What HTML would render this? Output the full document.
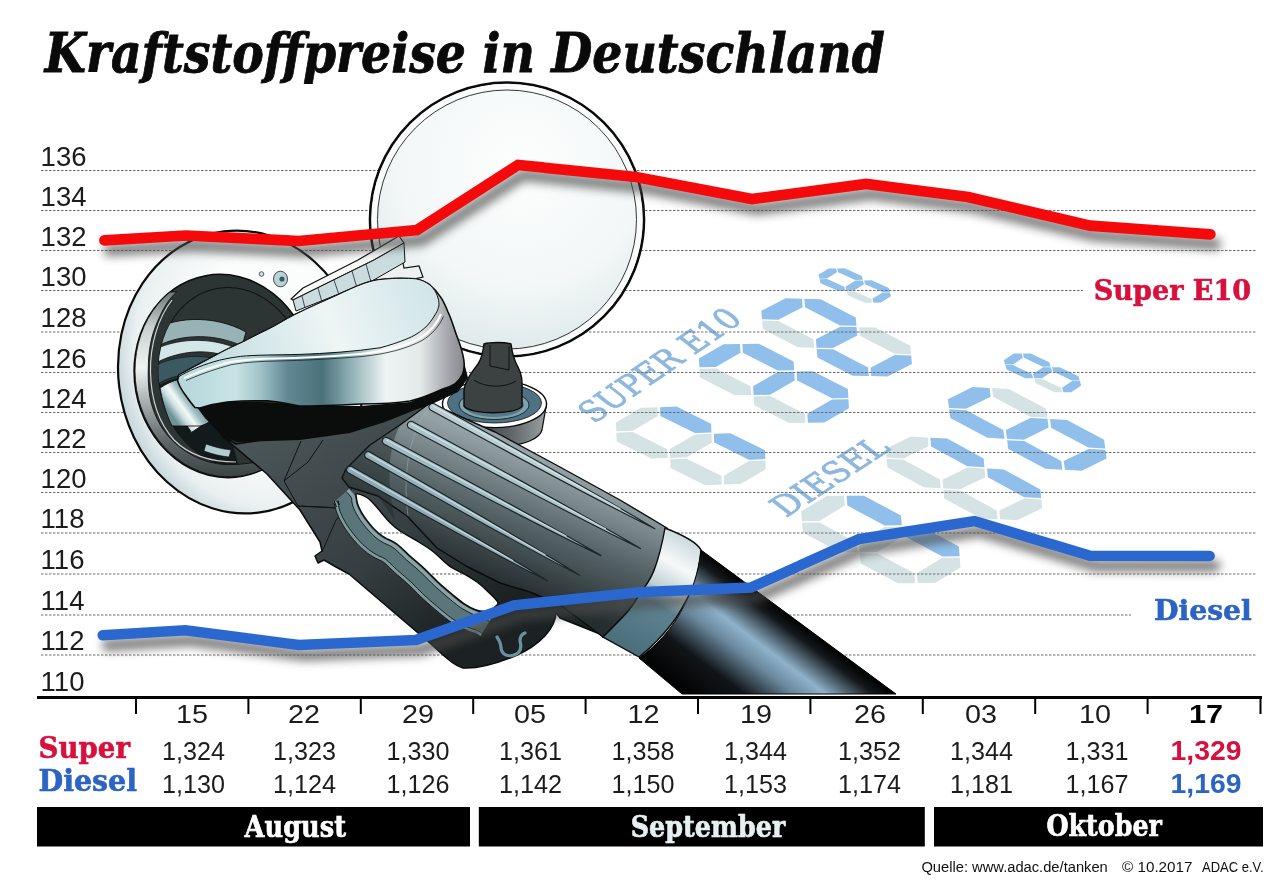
<!DOCTYPE html>
<html><head><meta charset="utf-8"><title>Kraftstoffpreise in Deutschland</title>
<style>
html,body{margin:0;padding:0;background:#fff;}
body{width:1280px;height:893px;overflow:hidden;position:relative;}
svg{position:absolute;left:0;top:0;display:block;}
.ax{font-family:"Liberation Sans",sans-serif;font-size:27.5px;fill:#1c1c1c;}
.dt{font-family:"Liberation Sans",sans-serif;font-size:25px;fill:#1c1c1c;}
.val{font-family:"Liberation Sans",sans-serif;font-size:26px;fill:#1c1c1c;}
.slab{font-family:"DejaVu Serif","Liberation Serif",serif;font-weight:bold;}
</style></head>
<body>
<svg width="1280" height="893" viewBox="0 0 1280 893">
<defs>
  <filter id="shd" x="-5%" y="-30%" width="110%" height="180%"><feGaussianBlur stdDeviation="5"/></filter>
</defs>
<rect width="1280" height="893" fill="#fff"/>

<!-- DIGITS -->
<g id="digits">
<g transform="matrix(0.5986 -0.3493 0.6231 0.3075 598.6 432.6)"><polygon points="15.5,13.5 29,0 71,0 84.5,13.5 71,27 29,27" fill="#d5e3e5"/><polygon points="15.5,100 29,86.5 71,86.5 84.5,100 71,113.5 29,113.5" fill="#d5e3e5"/><polygon points="15.5,186.5 29,173 71,173 84.5,186.5 71,200 29,200" fill="#d5e3e5"/><polygon points="13.5,15.5 27,29 27,84.5 13.5,98 0,84.5 0,29" fill="#d5e3e5"/><polygon points="86.5,15.5 100,29 100,84.5 86.5,98 73,84.5 73,29" fill="#8fbfea"/><polygon points="13.5,102 27,115.5 27,171 13.5,184.5 0,171 0,115.5" fill="#d5e3e5"/><polygon points="86.5,102 100,115.5 100,171 86.5,184.5 73,171 73,115.5" fill="#8fbfea"/></g>
<g transform="matrix(0.5877 -0.3390 0.6272 0.3199 681.8 368.3)"><polygon points="15.5,13.5 29,0 71,0 84.5,13.5 71,27 29,27" fill="#8fbfea"/><polygon points="15.5,100 29,86.5 71,86.5 84.5,100 71,113.5 29,113.5" fill="#8fbfea"/><polygon points="15.5,186.5 29,173 71,173 84.5,186.5 71,200 29,200" fill="#8fbfea"/><polygon points="13.5,15.5 27,29 27,84.5 13.5,98 0,84.5 0,29" fill="#d5e3e5"/><polygon points="86.5,15.5 100,29 100,84.5 86.5,98 73,84.5 73,29" fill="#8fbfea"/><polygon points="13.5,102 27,115.5 27,171 13.5,184.5 0,171 0,115.5" fill="#d5e3e5"/><polygon points="86.5,102 100,115.5 100,171 86.5,184.5 73,171 73,115.5" fill="#8fbfea"/></g>
<g transform="matrix(0.5788 -0.2986 0.6315 0.3283 744.5 319.5)"><polygon points="15.5,13.5 29,0 71,0 84.5,13.5 71,27 29,27" fill="#8fbfea"/><polygon points="15.5,100 29,86.5 71,86.5 84.5,100 71,113.5 29,113.5" fill="#8fbfea"/><polygon points="15.5,186.5 29,173 71,173 84.5,186.5 71,200 29,200" fill="#8fbfea"/><polygon points="13.5,15.5 27,29 27,84.5 13.5,98 0,84.5 0,29" fill="#d5e3e5"/><polygon points="86.5,15.5 100,29 100,84.5 86.5,98 73,84.5 73,29" fill="#8fbfea"/><polygon points="13.5,102 27,115.5 27,171 13.5,184.5 0,171 0,115.5" fill="#8fbfea"/><polygon points="86.5,102 100,115.5 100,171 86.5,184.5 73,171 73,115.5" fill="#d5e3e5"/></g>
<g transform="matrix(0.2390 -0.1486 0.3118 0.1390 811.6 279.1)"><polygon points="15.5,13.5 29,0 71,0 84.5,13.5 71,27 29,27" fill="#8fbfea"/><polygon points="15.5,100 29,86.5 71,86.5 84.5,100 71,113.5 29,113.5" fill="#8fbfea"/><polygon points="15.5,186.5 29,173 71,173 84.5,186.5 71,200 29,200" fill="#8fbfea"/><polygon points="13.5,15.5 27,29 27,84.5 13.5,98 0,84.5 0,29" fill="#8fbfea"/><polygon points="86.5,15.5 100,29 100,84.5 86.5,98 73,84.5 73,29" fill="#8fbfea"/><polygon points="13.5,102 27,115.5 27,171 13.5,184.5 0,171 0,115.5" fill="#d5e3e5"/><polygon points="86.5,102 100,115.5 100,171 86.5,184.5 73,171 73,115.5" fill="#8fbfea"/></g>
<g transform="matrix(0.6096 -0.3685 0.6688 0.3578 783.5 522.1)"><polygon points="15.5,13.5 29,0 71,0 84.5,13.5 71,27 29,27" fill="#d5e3e5"/><polygon points="15.5,100 29,86.5 71,86.5 84.5,100 71,113.5 29,113.5" fill="#d5e3e5"/><polygon points="15.5,186.5 29,173 71,173 84.5,186.5 71,200 29,200" fill="#d5e3e5"/><polygon points="13.5,15.5 27,29 27,84.5 13.5,98 0,84.5 0,29" fill="#d5e3e5"/><polygon points="86.5,15.5 100,29 100,84.5 86.5,98 73,84.5 73,29" fill="#8fbfea"/><polygon points="13.5,102 27,115.5 27,171 13.5,184.5 0,171 0,115.5" fill="#d5e3e5"/><polygon points="86.5,102 100,115.5 100,171 86.5,184.5 73,171 73,115.5" fill="#8fbfea"/></g>
<g transform="matrix(0.5979 -0.2890 0.6561 0.3578 868.4 457.1)"><polygon points="15.5,13.5 29,0 71,0 84.5,13.5 71,27 29,27" fill="#d5e3e5"/><polygon points="15.5,100 29,86.5 71,86.5 84.5,100 71,113.5 29,113.5" fill="#d5e3e5"/><polygon points="15.5,186.5 29,173 71,173 84.5,186.5 71,200 29,200" fill="#d5e3e5"/><polygon points="13.5,15.5 27,29 27,84.5 13.5,98 0,84.5 0,29" fill="#d5e3e5"/><polygon points="86.5,15.5 100,29 100,84.5 86.5,98 73,84.5 73,29" fill="#8fbfea"/><polygon points="13.5,102 27,115.5 27,171 13.5,184.5 0,171 0,115.5" fill="#d5e3e5"/><polygon points="86.5,102 100,115.5 100,171 86.5,184.5 73,171 73,115.5" fill="#8fbfea"/></g>
<g transform="matrix(0.5870 -0.2897 0.6697 0.3575 930.9 407.6)"><polygon points="15.5,13.5 29,0 71,0 84.5,13.5 71,27 29,27" fill="#8fbfea"/><polygon points="15.5,100 29,86.5 71,86.5 84.5,100 71,113.5 29,113.5" fill="#8fbfea"/><polygon points="15.5,186.5 29,173 71,173 84.5,186.5 71,200 29,200" fill="#8fbfea"/><polygon points="13.5,15.5 27,29 27,84.5 13.5,98 0,84.5 0,29" fill="#8fbfea"/><polygon points="86.5,15.5 100,29 100,84.5 86.5,98 73,84.5 73,29" fill="#d5e3e5"/><polygon points="13.5,102 27,115.5 27,171 13.5,184.5 0,171 0,115.5" fill="#8fbfea"/><polygon points="86.5,102 100,115.5 100,171 86.5,184.5 73,171 73,115.5" fill="#8fbfea"/></g>
<g transform="matrix(0.2390 -0.1603 0.3367 0.1601 996.9 364.8)"><polygon points="15.5,13.5 29,0 71,0 84.5,13.5 71,27 29,27" fill="#8fbfea"/><polygon points="15.5,100 29,86.5 71,86.5 84.5,100 71,113.5 29,113.5" fill="#8fbfea"/><polygon points="15.5,186.5 29,173 71,173 84.5,186.5 71,200 29,200" fill="#8fbfea"/><polygon points="13.5,15.5 27,29 27,84.5 13.5,98 0,84.5 0,29" fill="#8fbfea"/><polygon points="86.5,15.5 100,29 100,84.5 86.5,98 73,84.5 73,29" fill="#8fbfea"/><polygon points="13.5,102 27,115.5 27,171 13.5,184.5 0,171 0,115.5" fill="#d5e3e5"/><polygon points="86.5,102 100,115.5 100,171 86.5,184.5 73,171 73,115.5" fill="#8fbfea"/></g>
<text transform="matrix(0.8241 -0.5664 0.7880 0.6157 594 424)" x="0" y="0" font-family="DejaVu Serif, Liberation Serif, serif" stroke="#8db7de" stroke-width="0.9" font-size="34" fill="#8db7de" textLength="182" lengthAdjust="spacingAndGlyphs">SUPER E10</text>
<text transform="matrix(0.8387 -0.5446 0.7880 0.6157 786 518)" x="0" y="0" font-family="DejaVu Serif, Liberation Serif, serif" stroke="#8db7de" stroke-width="0.9" font-size="34" fill="#8db7de" textLength="126" lengthAdjust="spacingAndGlyphs">DIESEL</text>
</g>

<!-- GRIDLINES -->
<g id="grid" stroke="#6a6a6a" stroke-width="1" stroke-dasharray="2.4 1.6" fill="none">
  <path d="M41 170.5H1257M41 210.5H1257M41 250.5H1257M41 290.5H1083M41 332H1257M41 372.5H1257M41 412.5H1257M41 452.5H1257M41 492.5H1257M41 533H1257M41 574H1257M41 615H1131M41 655H1257"/>
</g>

<!-- ILLUSTRATION -->
<g id="ill">
  <defs>
    <radialGradient id="capG" cx="0.55" cy="0.3" r="0.8">
      <stop offset="0" stop-color="#fdfefe"/>
      <stop offset="0.55" stop-color="#f3f7f7"/>
      <stop offset="1" stop-color="#d6e4e6"/>
    </radialGradient>
    <radialGradient id="housG" cx="0.62" cy="0.45" r="0.62">
      <stop offset="0.55" stop-color="#fbfcfc"/>
      <stop offset="0.88" stop-color="#eaf0f1"/>
      <stop offset="1" stop-color="#c9d9dc"/>
    </radialGradient>
    <linearGradient id="silverG" gradientUnits="userSpaceOnUse" x1="178" y1="0" x2="466" y2="0">
      <stop offset="0" stop-color="#b4d6da"/>
      <stop offset="0.2" stop-color="#c8e3e5"/>
      <stop offset="0.28" stop-color="#a3c6cb"/>
      <stop offset="0.38" stop-color="#628893"/>
      <stop offset="0.5" stop-color="#4b717b"/>
      <stop offset="0.6" stop-color="#8fb0b6"/>
      <stop offset="0.72" stop-color="#eef3f3"/>
      <stop offset="0.84" stop-color="#e4e9ea"/>
      <stop offset="0.93" stop-color="#a9abb0"/>
      <stop offset="1" stop-color="#85858c"/>
    </linearGradient>
    <linearGradient id="topG" gradientUnits="userSpaceOnUse" x1="200" y1="380" x2="440" y2="290">
      <stop offset="0" stop-color="#bcdadd"/>
      <stop offset="0.55" stop-color="#eef5f5"/>
      <stop offset="1" stop-color="#cfe4e7"/>
    </linearGradient>
    <linearGradient id="gripG" gradientUnits="userSpaceOnUse" x1="548" y1="462" x2="500" y2="585">
      <stop offset="0" stop-color="#95a3a6"/>
      <stop offset="0.2" stop-color="#7d8b8e"/>
      <stop offset="0.5" stop-color="#566467"/>
      <stop offset="0.8" stop-color="#394345"/>
      <stop offset="1" stop-color="#252d2f"/>
    </linearGradient>
    <linearGradient id="bodyG" gradientUnits="userSpaceOnUse" x1="260" y1="440" x2="420" y2="660">
      <stop offset="0" stop-color="#4a5557"/>
      <stop offset="0.6" stop-color="#353e40"/>
      <stop offset="1" stop-color="#1c2223"/>
    </linearGradient>
    <linearGradient id="hoseG" gradientUnits="userSpaceOnUse" x1="790" y1="615" x2="712" y2="718">
      <stop offset="0" stop-color="#000"/>
      <stop offset="0.1" stop-color="#15191c"/>
      <stop offset="0.32" stop-color="#8fb2ca"/>
      <stop offset="0.46" stop-color="#6a899f"/>
      <stop offset="0.7" stop-color="#121518"/>
      <stop offset="1" stop-color="#000"/>
    </linearGradient>
    <linearGradient id="collarG" gradientUnits="userSpaceOnUse" x1="690" y1="535" x2="625" y2="650">
      <stop offset="0" stop-color="#c5d5d8"/>
      <stop offset="0.25" stop-color="#f6f9f9"/>
      <stop offset="0.45" stop-color="#c1d0d3"/>
      <stop offset="0.58" stop-color="#5f8491"/>
      <stop offset="1" stop-color="#4a6d7a"/>
    </linearGradient>
    <linearGradient id="ringSideG" gradientUnits="userSpaceOnUse" x1="450" y1="0" x2="546" y2="0">
      <stop offset="0" stop-color="#2e3333"/>
      <stop offset="0.6" stop-color="#5b6162"/>
      <stop offset="1" stop-color="#9aa0a1"/>
    </linearGradient>
    <linearGradient id="rimG" gradientUnits="userSpaceOnUse" x1="0" y1="290" x2="0" y2="476">
      <stop offset="0" stop-color="#6a7272"/>
      <stop offset="0.2" stop-color="#c9d0d1"/>
      <stop offset="0.42" stop-color="#f0f3f3"/>
      <stop offset="0.62" stop-color="#a2a9ab"/>
      <stop offset="0.82" stop-color="#5d6567"/>
      <stop offset="1" stop-color="#3d4444"/>
    </linearGradient>
    <linearGradient id="pipeG" gradientUnits="userSpaceOnUse" x1="170" y1="413" x2="192" y2="397">
      <stop offset="0" stop-color="#6f9299"/>
      <stop offset="0.3" stop-color="#cfe2e4"/>
      <stop offset="0.5" stop-color="#f4f8f8"/>
      <stop offset="0.75" stop-color="#9fbfc4"/>
      <stop offset="1" stop-color="#7a9ba1"/>
    </linearGradient>
  </defs>

  <!-- cap door -->
  <circle cx="507" cy="219.5" r="137" fill="url(#capG)" stroke="#0b0b0b" stroke-width="2.6"/>
  <circle cx="507" cy="219.5" r="133" fill="none" stroke="#fbfcfc" stroke-width="5"/>
  <circle cx="507" cy="219.5" r="129.5" fill="none" stroke="#222" stroke-width="0.9"/>

  <!-- hinge base panel -->
  <path d="M368 262 L398 238 L404 268 L419 266 L423 277 L400 282 L372 282 Z" fill="#eef1f1" stroke="#111" stroke-width="1.2"/>

  <!-- filler housing -->
  <ellipse cx="241" cy="372" rx="122.7" ry="141.7" transform="rotate(-7 241 372)" fill="url(#housG)" stroke="#0b0b0b" stroke-width="2.2"/>
  <!-- small holes -->
  <circle cx="261.5" cy="274" r="2.3" fill="#cfe1e4" stroke="#223" stroke-width="0.7"/>
  <ellipse cx="280.5" cy="279" rx="7" ry="7.8" fill="#b9d3d8" stroke="#223" stroke-width="0.8"/>
  <circle cx="282" cy="279" r="2.6" fill="#3a5a60"/>

  <!-- filler opening -->
  <clipPath id="openClip"><ellipse cx="233" cy="377" rx="74" ry="90" transform="rotate(-10.4 233 377)"/></clipPath>
  <ellipse cx="224" cy="376" rx="89.5" ry="102" transform="rotate(-10.4 224 376)" fill="#2c3434" stroke="#0b0b0b" stroke-width="1.5"/>
  <ellipse cx="233" cy="377" rx="74" ry="90" transform="rotate(-10.4 233 377)" fill="none" stroke="#111" stroke-width="1"/>
  <g clip-path="url(#openClip)">
    <path d="M148 334 C170 316 214 314 246 332 L242 346 C212 332 176 334 150 350 Z" fill="#98b3b6" stroke="#111" stroke-width="0.9"/>
    <path d="M150 352 C176 337 212 337 238 349 L232 358 C208 348 178 350 152 365 Z" fill="#d3e6e8" stroke="#111" stroke-width="0.8"/>
    <path d="M152 367 C177 354 206 354 228 362 L214 380 C197 371 175 373 154 386 Z" fill="#3b5961" stroke="#111" stroke-width="0.6"/>
    <path d="M154 388 C175 375 198 373 214 381 L240 470 C210 470 180 460 160 440 Z" fill="#131a1b"/>
    <path d="M164.4 393 L176.7 383.2 L206.3 422.6 L191.5 432.4 Z" fill="url(#pipeG)" stroke="#111" stroke-width="0.9"/>
    <path d="M206 444 C214 447 222 449 231 450 L229 457 C220 456 212 454 204 451 Z" fill="#b2cdd1" stroke="#111" stroke-width="0.6"/>
  </g>
  <!-- silver rim (left crescent) -->
  <path d="M170 292 A89.5 102 -10.4 0 0 264.5 468.5 L258 462 C245 464 235 465 223.5 464.5 C205 463 188 455 174.2 442.3 C163 432 155 418 151 402 C148 390 148 376 148.4 363.5 C149 345 153 330 160 316 C165 305 170 298 176.7 292 Z" fill="url(#rimG)" stroke="#111" stroke-width="0.9"/>
  <path d="M172 300 C158 318 150 345 150.5 372 C151 398 158 422 174 440 C190 456 212 462 236 462" fill="none" stroke="#f4f7f7" stroke-width="1.2" opacity="0.8"/>

  <!-- strap -->
  <path d="M291 299 L303 288 L358 260 L399 236 L404 243 L374 260 L293 300 Z" fill="#f7f8f8" stroke="#111" stroke-width="1.2" stroke-linejoin="round"/>
  <path d="M293 300 L374 260 L404 243 L405 262 L372 281 L296 311 Z" fill="#cbdcdf" stroke="#111" stroke-width="1"/>
  <path d="M302 296 L305 308 M318 288 L322 302 M334 280 L339 295 M352 271 L357 288 M366 264 L371 282" stroke="#223" stroke-width="0.8"/>

  <!-- spout pipe -->
  <path d="M160 388 C166 384 172 381 180 379 L212 420 C208 423 204 425 200 426 L172 426 C166 414 162 400 160 388 Z" fill="url(#pipeG)" stroke="#111" stroke-width="0.9"/>

  <!-- small cap ring -->
  <path d="M442.5 404 L446 428 C455 440 480 446 500 446 C525 446 540 438 542 430 L546.5 404 Z" fill="url(#ringSideG)" stroke="#0b0b0b" stroke-width="1.2"/>
  <ellipse cx="494.5" cy="404" rx="52" ry="23.6" fill="#fff" stroke="#0b0b0b" stroke-width="1.4"/>
  <ellipse cx="494.5" cy="403" rx="47" ry="20" fill="#4e7283" stroke="#111" stroke-width="0.8"/>
  <ellipse cx="494" cy="405" rx="35" ry="14.5" fill="#7fa2ad" stroke="#111" stroke-width="0.8"/>
  <ellipse cx="494" cy="405" rx="30" ry="12" fill="#56798a"/>
  <!-- knob -->
  <path d="M464 406 L464 392 C464 382 472 372 478 364 C482 358 483 352 484 344 C490 342 505 342 511 344 C512 352 514 360 518 367 C523 376 522 384 522 392 L522 406 C517 415 470 415 464 406 Z" fill="#3c4242" stroke="#0b0b0b" stroke-width="1.4"/>
  <path d="M490 345 L490 366 L509 370 L509 346" fill="none" stroke="#111" stroke-width="1"/>
  <path d="M474 380 C485 388 505 388 516 381" fill="none" stroke="#111" stroke-width="1"/>

  <!-- body/neck + trigger guard silhouette -->
  <path d="M222 436 L236 444 L310 433 L385 416 L432 404 L605 636 L560 618 L556 612 C556 628 540 645 515 656 C498 663 478 669 463 668 C455 666 446 658 431 644 L349 574 L336 567 L324 560 L318 563 L315 556 L322 551 L320 542 L300 510 L267 474 Z" fill="url(#bodyG)" stroke="#0b0b0b" stroke-width="1.5" stroke-linejoin="round"/>
  <!-- neck facets -->
  <path d="M301 441 L284 481 L308 462 L323 440 M284 481 L298 506 L340 508 L352 488" fill="none" stroke="#111" stroke-width="1"/>
  <path d="M298 506 L340 508 L356 497 L336 520 L322 552" fill="none" stroke="#111" stroke-width="0.9"/>
  <!-- guard inner light band -->
  <path d="M349.3 488.7 L350.0 489.5 L351.0 490.6 L352.2 491.9 L353.4 493.3 L354.5 494.7 L355.2 495.9 L355.6 497.1 L355.8 498.2 L355.9 499.5 L356.0 500.8 L356.2 502.3 L356.5 503.8 L357.1 505.3 L357.7 506.8 L358.3 508.3 L359.1 509.8 L359.8 511.3 L360.6 512.8 L361.4 514.2 L362.3 515.6 L363.2 516.9 L364.1 518.2 L365.1 519.6 L366.1 520.9 L367.2 522.3 L368.3 523.7 L369.4 525.1 L370.6 526.5 L371.7 527.8 L372.9 529.1 L374.0 530.3 L375.2 531.4 L376.4 532.5 L377.5 533.5 L378.6 534.4 L379.7 535.3 L380.6 536.0 L381.4 536.6 L382.2 537.1 L383.0 537.6 L384.0 538.2 L385.2 538.9 L386.8 539.7 L388.5 540.5 L390.4 541.4 L392.4 542.3 L394.4 543.5 L396.4 544.8 L398.4 546.4 L400.5 548.3 L402.6 550.3 L404.8 552.5 L407.1 554.6 L409.3 556.7 L411.6 558.8 L413.9 560.8 L416.3 562.7 L418.6 564.8 L421.0 566.8 L423.3 568.9 L425.6 571.1 L428.0 573.5 L430.3 575.8 L432.6 578.2 L435.0 580.5 L437.3 582.7 L439.7 584.9 L442.0 587.0 L444.4 589.0 L446.7 591.0 L449.0 592.9 L451.2 594.8 L453.2 596.5 L455.2 598.2 L457.1 599.8 L459.1 601.3 L461.0 602.8 L462.9 604.1 L465.0 605.4 L467.0 606.6 L469.1 607.7 L471.1 608.7 L473.0 609.7 L474.9 610.5 L476.7 611.3 L478.5 611.9 L480.2 612.4 L481.7 612.9 L483.2 613.4 L484.6 613.9 L485.9 614.6 L487.3 615.3 L488.6 616.1 L489.8 616.8 L490.7 617.4 L491.5 617.9 L480.6 635.8 L479.7 635.3 L478.7 634.6 L477.7 634.1 L476.9 633.6 L476.3 633.2 L476.2 633.1 L476.1 633.1 L475.4 632.9 L474.0 632.5 L471.9 631.8 L469.3 630.9 L466.5 629.8 L464.1 628.7 L461.8 627.6 L459.3 626.3 L456.8 624.9 L454.1 623.4 L451.3 621.6 L448.7 619.8 L446.2 617.9 L443.9 616.1 L441.7 614.3 L439.7 612.6 L437.7 610.9 L435.5 609.0 L433.1 607.0 L430.7 604.9 L428.2 602.7 L425.6 600.5 L423.0 598.1 L420.3 595.6 L417.8 593.0 L415.4 590.6 L413.1 588.3 L411.0 586.2 L409.0 584.3 L407.0 582.5 L404.9 580.6 L402.7 578.7 L400.3 576.7 L397.8 574.6 L395.2 572.3 L392.6 569.9 L390.2 567.5 L388.0 565.4 L386.2 563.7 L384.8 562.4 L383.9 561.7 L383.4 561.3 L382.6 560.9 L381.4 560.3 L379.8 559.6 L377.6 558.6 L375.2 557.4 L373.5 556.4 L372.3 555.7 L370.9 554.8 L369.4 553.8 L368.0 552.8 L366.6 551.7 L365.2 550.6 L363.8 549.4 L362.3 548.1 L360.8 546.7 L359.2 545.1 L357.6 543.5 L356.1 541.8 L354.6 540.1 L353.2 538.4 L351.8 536.8 L350.5 535.1 L349.3 533.5 L348.2 532.0 L347.1 530.4 L345.9 528.8 L344.7 527.0 L343.5 525.1 L342.3 523.1 L341.3 521.1 L340.3 519.2 L339.3 517.1 L338.3 514.9 L337.4 512.7 L336.4 509.7 L335.5 505.9 L335.1 502.7 L335.0 501.0 L335.0 501.1 L335.4 502.7 L336.3 505.1 L337.1 506.5 L337.1 506.5 L336.5 505.8 L335.6 504.8 L334.5 503.6 L333.5 502.6 Z" fill="#5b767a"/>
  <path d="M348.9 489.0 L349.6 489.8 L350.7 490.9 L351.8 492.2 L353.0 493.6 L354.0 495.0 L354.8 496.2 L355.1 497.2 L355.3 498.3 L355.4 499.5 L355.5 500.9 L355.7 502.4 L356.1 503.9 L356.6 505.5 L357.2 507.0 L357.9 508.5 L358.6 510.1 L359.4 511.6 L360.2 513.0 L361.0 514.5 L361.9 515.8 L362.8 517.2 L363.7 518.5 L364.7 519.9 L365.7 521.2 L366.8 522.6 L367.9 524.0 L369.0 525.4 L370.2 526.8 L371.3 528.2 L372.5 529.4 L373.7 530.6 L374.9 531.8 L376.0 532.9 L377.2 533.9 L378.3 534.8 L379.4 535.7 L380.3 536.4 L381.1 537.0 L381.9 537.5 L382.7 538.0 L383.7 538.6 L385.0 539.3 L386.6 540.1 L388.3 541.0 L390.2 541.8 L392.2 542.8 L394.2 543.9 L396.1 545.2 L398.1 546.8 L400.2 548.6 L402.3 550.7 L404.5 552.8 L406.7 555.0 L409.0 557.1 L411.3 559.1 L413.6 561.1 L416.0 563.1 L418.3 565.1 L420.7 567.2 L423.0 569.3 L425.3 571.5 L427.6 573.8 L429.9 576.2 L432.3 578.5 L434.6 580.9 L437.0 583.1 L439.3 585.2 L441.7 587.4 L444.1 589.4 L446.4 591.4 L448.7 593.3 L450.8 595.1 L452.9 596.9 L454.9 598.6 L456.8 600.2 L458.7 601.7 L460.7 603.2 L462.7 604.5 L464.7 605.8 L466.8 607.0 L468.8 608.1 L470.9 609.2 L472.8 610.1 L474.7 611.0 L476.5 611.7 L478.3 612.4 L480.0 612.9 L481.6 613.4 L483.1 613.8 L484.4 614.4 L485.7 615.0 L487.1 615.7 L488.3 616.5 L489.5 617.2 L490.5 617.8 L491.2 618.3 L489.4 621.3 L488.6 620.8 L487.6 620.2 L486.5 619.5 L485.3 618.8 L484.1 618.1 L483.0 617.6 L481.9 617.1 L480.5 616.7 L479.0 616.2 L477.2 615.7 L475.3 615.0 L473.3 614.2 L471.3 613.3 L469.3 612.3 L467.2 611.3 L465.1 610.1 L462.9 608.8 L460.7 607.5 L458.6 606.0 L456.6 604.5 L454.6 602.9 L452.6 601.2 L450.7 599.6 L448.6 597.8 L446.4 596.0 L444.1 594.1 L441.8 592.1 L439.4 590.0 L437.0 587.8 L434.6 585.7 L432.2 583.4 L429.8 581.0 L427.5 578.6 L425.1 576.3 L422.8 574.0 L420.6 571.9 L418.3 569.8 L416.0 567.8 L413.7 565.8 L411.3 563.8 L409.0 561.8 L406.6 559.7 L404.3 557.5 L402.0 555.3 L399.9 553.2 L397.8 551.2 L395.8 549.5 L394.0 548.0 L392.3 546.9 L390.6 545.9 L388.7 545.0 L386.9 544.1 L385.0 543.3 L383.3 542.4 L382.0 541.6 L381.0 541.0 L380.0 540.5 L379.1 539.9 L378.2 539.2 L377.2 538.4 L376.1 537.5 L374.9 536.5 L373.7 535.5 L372.4 534.3 L371.2 533.1 L370.0 531.8 L368.7 530.5 L367.5 529.1 L366.3 527.6 L365.1 526.2 L364.0 524.7 L362.9 523.3 L361.9 521.9 L360.9 520.6 L359.9 519.2 L359.0 517.7 L358.0 516.3 L357.1 514.8 L356.3 513.2 L355.5 511.6 L354.7 510.0 L354.0 508.3 L353.3 506.7 L352.7 504.9 L352.2 503.0 L352.0 501.2 L351.9 499.8 L351.9 498.8 L351.8 498.1 L351.6 497.7 L351.1 496.9 L350.3 495.8 L349.2 494.6 L348.1 493.3 L347.0 492.2 L346.3 491.3 Z" fill="#89a4a8"/>
  <path d="M335.8 500.6 L336.7 501.6 L337.8 502.8 L338.7 503.8 L339.4 504.6 L339.6 504.8 L339.0 503.8 L338.3 501.9 L338.0 500.7 L338.0 500.8 L338.1 502.4 L338.5 505.4 L339.3 508.9 L340.2 511.6 L341.1 513.8 L342.0 515.8 L342.9 517.8 L343.9 519.7 L344.9 521.6 L346.1 523.5 L347.2 525.4 L348.4 527.1 L349.5 528.7 L350.6 530.2 L351.7 531.7 L352.9 533.3 L354.2 534.9 L355.5 536.5 L356.9 538.2 L358.3 539.8 L359.8 541.4 L361.3 543.0 L362.8 544.5 L364.3 545.9 L365.8 547.1 L367.2 548.3 L368.5 549.4 L369.8 550.4 L371.1 551.3 L372.5 552.3 L373.8 553.1 L375.0 553.8 L376.7 554.7 L378.9 555.9 L381.0 556.8 L382.7 557.6 L384.0 558.3 L385.0 558.8 L385.7 559.3 L386.7 560.1 L388.3 561.5 L390.1 563.3 L392.3 565.4 L394.7 567.7 L397.3 570.1 L399.8 572.3 L402.2 574.4 L404.6 576.4 L406.9 578.4 L409.0 580.3 L411.1 582.1 L413.1 584.0 L415.2 586.2 L417.5 588.5 L419.9 590.9 L422.4 593.4 L425.0 595.9 L427.6 598.2 L430.1 600.5 L432.6 602.7 L435.1 604.7 L437.4 606.7 L439.6 608.6 L441.6 610.3 L443.7 612.0 L445.8 613.7 L448.0 615.5 L450.4 617.3 L453.0 619.1 L455.6 620.8 L458.2 622.3 L460.7 623.7 L463.1 624.9 L465.4 626.0 L467.7 627.0 L470.3 628.1 L472.8 629.0 L474.9 629.6 L476.3 630.0 L477.1 630.3 L477.4 630.4 L477.7 630.6 L478.4 631.0 L479.3 631.5 L480.3 632.1 L481.3 632.7 L482.2 633.3 L480.3 636.2 L479.4 635.7 L478.4 635.0 L477.5 634.5 L476.7 634.0 L476.1 633.7 L476.0 633.6 L475.9 633.6 L475.2 633.4 L473.8 632.9 L471.7 632.3 L469.1 631.4 L466.3 630.2 L463.9 629.1 L461.6 628.0 L459.1 626.8 L456.5 625.4 L453.8 623.8 L451.0 622.0 L448.4 620.2 L445.9 618.3 L443.6 616.4 L441.4 614.7 L439.4 613.0 L437.3 611.2 L435.1 609.4 L432.8 607.4 L430.3 605.3 L427.8 603.1 L425.3 600.8 L422.6 598.4 L420.0 595.9 L417.4 593.4 L415.0 590.9 L412.8 588.6 L410.6 586.6 L408.7 584.7 L406.7 582.9 L404.6 581.0 L402.3 579.1 L400.0 577.1 L397.5 575.0 L394.9 572.7 L392.3 570.2 L389.8 567.9 L387.7 565.8 L385.9 564.0 L384.5 562.8 L383.7 562.1 L383.1 561.8 L382.4 561.4 L381.2 560.8 L379.6 560.0 L377.4 559.0 L375.0 557.8 L373.3 556.8 L372.0 556.1 L370.6 555.2 L369.1 554.2 L367.6 553.2 L366.3 552.1 L364.9 551.0 L363.5 549.8 L362.0 548.5 L360.4 547.0 L358.8 545.5 L357.2 543.8 L355.7 542.1 L354.2 540.4 L352.8 538.7 L351.4 537.1 L350.1 535.4 L348.9 533.8 L347.8 532.3 L346.6 530.7 L345.5 529.1 L344.3 527.3 L343.1 525.3 L341.9 523.3 L340.8 521.4 L339.8 519.4 L338.8 517.3 L337.9 515.1 L336.9 512.8 L335.9 509.9 L335.0 506.0 L334.6 502.7 L334.5 501.1 L334.5 501.1 L334.9 502.8 L335.9 505.3 L336.7 506.8 L336.7 506.8 L336.1 506.1 L335.2 505.2 L334.1 504.0 L333.2 502.9 Z" fill="#7f999d"/>
  <g fill="none" stroke="#101515" stroke-width="0.9"><path d="M346.1 491.4 L346.9 492.3 L347.9 493.4 L349.1 494.7 L350.1 495.9 L351.0 497.1 L351.4 497.8 L351.6 498.2 L351.7 498.8 L351.7 499.8 L351.8 501.2 L352.1 503.0 L352.5 505.0 L353.1 506.8 L353.8 508.4 L354.5 510.1 L355.3 511.7 L356.1 513.3 L357.0 514.9 L357.9 516.4 L358.8 517.9 L359.7 519.3 L360.7 520.7 L361.7 522.1 L362.7 523.4 L363.8 524.8 L365.0 526.3 L366.2 527.8 L367.4 529.2 L368.6 530.6 L369.8 532.0 L371.1 533.2 L372.3 534.5 L373.6 535.6 L374.8 536.7 L375.9 537.7 L377.1 538.6 L378.1 539.4 L379.0 540.0 L379.9 540.6 L380.9 541.2 L381.9 541.8 L383.2 542.6 L384.9 543.5 L386.8 544.3 L388.6 545.2 L390.5 546.1 L392.2 547.0 L393.9 548.2 L395.7 549.6 L397.6 551.4 L399.7 553.4 L401.9 555.5 L404.2 557.7 L406.5 559.9 L408.9 561.9 L411.2 563.9 L413.6 565.9 L415.9 567.9 L418.2 570.0 L420.5 572.0 L422.7 574.2 L425.0 576.4 L427.3 578.8 L429.7 581.1 L432.1 583.5 L434.5 585.8 L436.9 588.0 L439.3 590.1 L441.6 592.2 L444.0 594.2 L446.3 596.2 L448.5 598.0 L450.5 599.7 L452.5 601.4 L454.5 603.0 L456.5 604.6 L458.5 606.2 L460.6 607.6 L462.8 609.0 L465.0 610.3 L467.1 611.4 L469.2 612.5 L471.2 613.5 L473.2 614.4 L475.2 615.2 L477.2 615.9 L478.9 616.4 L480.5 616.9 L481.8 617.3 L482.9 617.8 L484.0 618.3 L485.2 619.0 L486.4 619.7 L487.5 620.4 L488.5 621.0 L489.3 621.4"/><path d="M335.8 500.6 L336.7 501.6 L337.8 502.8 L338.7 503.8 L339.4 504.6 L339.6 504.8 L339.0 503.8 L338.3 501.9 L338.0 500.7 L338.0 500.8 L338.1 502.4 L338.5 505.4 L339.3 508.9 L340.2 511.6 L341.1 513.8 L342.0 515.8 L342.9 517.8 L343.9 519.7 L344.9 521.6 L346.1 523.5 L347.2 525.4 L348.4 527.1 L349.5 528.7 L350.6 530.2 L351.7 531.7 L352.9 533.3 L354.2 534.9 L355.5 536.5 L356.9 538.2 L358.3 539.8 L359.8 541.4 L361.3 543.0 L362.8 544.5 L364.3 545.9 L365.8 547.1 L367.2 548.3 L368.5 549.4 L369.8 550.4 L371.1 551.3 L372.5 552.3 L373.8 553.1 L375.0 553.8 L376.7 554.7 L378.9 555.9 L381.0 556.8 L382.7 557.6 L384.0 558.3 L385.0 558.8 L385.7 559.3 L386.7 560.1 L388.3 561.5 L390.1 563.3 L392.3 565.4 L394.7 567.7 L397.3 570.1 L399.8 572.3 L402.2 574.4 L404.6 576.4 L406.9 578.4 L409.0 580.3 L411.1 582.1 L413.1 584.0 L415.2 586.2 L417.5 588.5 L419.9 590.9 L422.4 593.4 L425.0 595.9 L427.6 598.2 L430.1 600.5 L432.6 602.7 L435.1 604.7 L437.4 606.7 L439.6 608.6 L441.6 610.3 L443.7 612.0 L445.8 613.7 L448.0 615.5 L450.4 617.3 L453.0 619.1 L455.6 620.8 L458.2 622.3 L460.7 623.7 L463.1 624.9 L465.4 626.0 L467.7 627.0 L470.3 628.1 L472.8 629.0 L474.9 629.6 L476.3 630.0 L477.1 630.3 L477.4 630.4 L477.7 630.6 L478.4 631.0 L479.3 631.5 L480.3 632.1 L481.3 632.7 L482.2 633.3"/><path d="M333.2 502.9 L334.1 504.0 L335.2 505.2 L336.1 506.1 L336.7 506.8 L336.7 506.8 L335.9 505.3 L334.9 502.8 L334.5 501.1 L334.5 501.1 L334.6 502.7 L335.0 506.0 L335.9 509.9 L336.9 512.8 L337.9 515.1 L338.8 517.3 L339.8 519.4 L340.8 521.4 L341.9 523.3 L343.1 525.3 L344.3 527.3 L345.5 529.1 L346.6 530.7 L347.8 532.3 L348.9 533.8 L350.1 535.4 L351.4 537.1 L352.8 538.7 L354.2 540.4 L355.7 542.1 L357.2 543.8 L358.8 545.5 L360.4 547.0 L362.0 548.5 L363.5 549.8 L364.9 551.0 L366.3 552.1 L367.6 553.2 L369.1 554.2 L370.6 555.2 L372.0 556.1 L373.3 556.8 L375.0 557.8 L377.4 559.0 L379.6 560.0 L381.2 560.8 L382.4 561.4 L383.1 561.8 L383.7 562.1 L384.5 562.8 L385.9 564.0 L387.7 565.8 L389.8 567.9 L392.3 570.2 L394.9 572.7 L397.5 575.0 L400.0 577.1 L402.3 579.1 L404.6 581.0 L406.7 582.9 L408.7 584.7 L410.6 586.6 L412.8 588.6 L415.0 590.9 L417.4 593.4 L420.0 595.9 L422.6 598.4 L425.3 600.8 L427.8 603.1 L430.3 605.3 L432.8 607.4 L435.1 609.4 L437.3 611.2 L439.4 613.0 L441.4 614.7 L443.6 616.4 L445.9 618.3 L448.4 620.2 L451.0 622.0 L453.8 623.8 L456.5 625.4 L459.1 626.8 L461.6 628.0 L463.9 629.1 L466.3 630.2 L469.1 631.4 L471.7 632.3 L473.8 632.9 L475.2 633.4 L475.9 633.6 L476.0 633.6 L476.1 633.7 L476.7 634.0 L477.5 634.5 L478.4 635.0 L479.4 635.7 L480.3 636.2"/></g>

  <!-- grip -->
  <path d="M430 403 L495 432 L560 467 L620 500 L667 528 C663 545 659 560 654 571 C650 580 646 586 641 592 C636 600 632 607 626 613.4 C618 622 610 630 603 637 L562 606 L530 592 L500 583 L466 566 L437 548 L407 516 L378 496 L349 487 L342 478 L346 469 L370 445 L400 425 Z" fill="url(#gripG)" stroke="#0b0b0b" stroke-width="1.4" stroke-linejoin="round"/>
  <path d="M400 425 C388 450 386 480 395 520 L378 496 L349 487 L342 478 L346 469 L370 445 Z" fill="#1f2729" opacity="0.45"/>
  <path d="M432 404 C410 430 402 470 408 516" fill="none" stroke="#9fb2b6" stroke-width="1" opacity="0.5"/>
  <!-- grip ridges -->
  <g fill="none">
    <path d="M430.9 410.2 Q586.6 495.0 654.8 528.7 Q589.7 489.3 434.3 403.8 A3.6 3.6 0 0 0 430.9 410.2 Z" fill="#b9cdd3" stroke="#1d2527" stroke-width="1.2" stroke-linejoin="round"/>
    <path d="M433.2 405.9 L620.1 508.8" stroke="#e2ecef" stroke-width="1.1" stroke-linecap="round" opacity="0.75"/>
    <path d="M409.3 428.2 Q570.1 514.3 640.5 548.5 Q573.2 508.6 412.7 421.8 A3.6 3.6 0 0 0 409.3 428.2 Z" fill="#adc4ca" stroke="#1d2527" stroke-width="1.2" stroke-linejoin="round"/>
    <path d="M411.6 423.9 L605.7 528.8" stroke="#e2ecef" stroke-width="1.1" stroke-linecap="round" opacity="0.75"/>
    <path d="M384.3 444.2 Q535.0 524.1 601.0 555.6 Q538.0 518.4 387.7 437.8 A3.6 3.6 0 0 0 384.3 444.2 Z" fill="#a2bbc2" stroke="#1d2527" stroke-width="1.2" stroke-linejoin="round"/>
    <path d="M386.6 439.9 L566.1 536.1" stroke="#e2ecef" stroke-width="1.1" stroke-linecap="round" opacity="0.75"/>
    <path d="M366.2 458.1 Q514.5 542.0 579.6 575.3 Q517.7 536.4 369.8 451.9 A3.6 3.6 0 0 0 366.2 458.1 Z" fill="#98b3bb" stroke="#1d2527" stroke-width="1.2" stroke-linejoin="round"/>
    <path d="M368.6 454.0 L545.2 554.8" stroke="#e2ecef" stroke-width="1.1" stroke-linecap="round" opacity="0.75"/>
    <path d="M348.2 472.7 Q486.5 550.2 547.3 580.7 Q489.7 544.5 351.8 466.5 A3.6 3.6 0 0 0 348.2 472.7 Z" fill="#8eabb3" stroke="#1d2527" stroke-width="1.2" stroke-linejoin="round"/>
    <path d="M350.6 468.6 L512.8 560.4" stroke="#e2ecef" stroke-width="1.1" stroke-linecap="round" opacity="0.75"/>
  </g>

  <!-- trigger hole -->
  <path d="M356.1 494.1 C356.8 493.9 358.4 493.8 360.2 494.4 C362.0 495.0 364.9 496.2 366.9 497.5 C368.9 498.8 370.5 500.4 372.3 502.2 C374.1 504.0 375.7 506.0 377.6 508.2 C379.5 510.4 381.6 513.1 383.7 515.6 C385.8 518.1 387.7 520.4 390.4 523.0 C393.1 525.6 395.9 528.2 400.0 531.0 C404.1 533.8 409.4 536.2 414.8 539.6 C420.2 543.0 427.0 546.9 432.7 551.2 C438.4 555.5 443.1 561.5 448.9 565.6 C454.7 569.7 462.3 572.9 467.4 575.9 C472.4 578.9 475.7 581.0 479.2 583.7 C482.7 586.4 486.0 589.8 488.6 592.3 C491.2 594.8 493.3 596.7 494.9 598.6 C496.5 600.5 498.3 601.9 498.0 603.5 C497.7 605.1 495.4 606.7 493.3 608.0 C491.2 609.3 488.5 610.8 485.5 611.1 C482.5 611.4 479.0 610.9 475.3 609.6 C471.6 608.3 467.4 605.9 463.5 603.3 C459.6 600.7 456.1 597.5 451.8 594.0 C447.6 590.5 442.6 586.3 438.0 582.0 C433.4 577.7 428.7 572.5 424.0 568.2 C419.3 563.9 414.5 560.0 410.0 556.0 C405.5 552.0 401.1 547.0 397.0 544.0 C392.9 541.0 388.5 539.6 385.7 538.0 C382.9 536.4 382.3 536.1 380.3 534.5 C378.3 532.9 375.8 530.8 373.6 528.4 C371.4 526.0 368.9 523.0 366.9 520.3 C364.9 517.6 363.1 515.1 361.5 512.3 C359.9 509.5 358.4 506.3 357.5 503.5 C356.6 500.7 356.3 497.1 356.1 495.5 C355.9 493.9 355.4 494.3 356.1 494.1 Z" fill="#fff" stroke="#0b0b0b" stroke-width="1.4"/>
  <clipPath id="holeClip"><path d="M356.1 494.1 C356.8 493.9 358.4 493.8 360.2 494.4 C362.0 495.0 364.9 496.2 366.9 497.5 C368.9 498.8 370.5 500.4 372.3 502.2 C374.1 504.0 375.7 506.0 377.6 508.2 C379.5 510.4 381.6 513.1 383.7 515.6 C385.8 518.1 387.7 520.4 390.4 523.0 C393.1 525.6 395.9 528.2 400.0 531.0 C404.1 533.8 409.4 536.2 414.8 539.6 C420.2 543.0 427.0 546.9 432.7 551.2 C438.4 555.5 443.1 561.5 448.9 565.6 C454.7 569.7 462.3 572.9 467.4 575.9 C472.4 578.9 475.7 581.0 479.2 583.7 C482.7 586.4 486.0 589.8 488.6 592.3 C491.2 594.8 493.3 596.7 494.9 598.6 C496.5 600.5 498.3 601.9 498.0 603.5 C497.7 605.1 495.4 606.7 493.3 608.0 C491.2 609.3 488.5 610.8 485.5 611.1 C482.5 611.4 479.0 610.9 475.3 609.6 C471.6 608.3 467.4 605.9 463.5 603.3 C459.6 600.7 456.1 597.5 451.8 594.0 C447.6 590.5 442.6 586.3 438.0 582.0 C433.4 577.7 428.7 572.5 424.0 568.2 C419.3 563.9 414.5 560.0 410.0 556.0 C405.5 552.0 401.1 547.0 397.0 544.0 C392.9 541.0 388.5 539.6 385.7 538.0 C382.9 536.4 382.3 536.1 380.3 534.5 C378.3 532.9 375.8 530.8 373.6 528.4 C371.4 526.0 368.9 523.0 366.9 520.3 C364.9 517.6 363.1 515.1 361.5 512.3 C359.9 509.5 358.4 506.3 357.5 503.5 C356.6 500.7 356.3 497.1 356.1 495.5 C355.9 493.9 355.4 494.3 356.1 494.1 Z"/></clipPath>
  <path clip-path="url(#holeClip)" d="M340 533H520M340 574H520" stroke="#555" stroke-width="1" stroke-dasharray="2.4 1.6"/>
  <!-- clip -->
  <path d="M497 637 C499 640 501 643 501 648 C502 655 508 657 514 655 C520 653 522 648 520 641 C520 637 522 634 525 633" fill="none" stroke="#6a919f" stroke-width="3.2" stroke-linecap="round"/>

  <!-- collar -->
  <path d="M665 528 C688 537 698 544 701 550 C699 575 694 588 688 597 C682 608 678 616 673 622 C664 634 652 647 639 657 L603 637 C610 630 618 622 626 613.4 C632 607 636 600 641 592 C646 586 650 580 653.8 571 C658 560 662 545 665 528 Z" fill="url(#collarG)" stroke="#0b0b0b" stroke-width="1.4"/>

  <!-- hose -->
  <path d="M701 550 L896 694 L682 694 L639 658 C665 640 678 618 685 604 C692 590 698 575 701 550 Z" fill="url(#hoseG)" stroke="#000" stroke-width="1"/>

  <!-- black band under silver -->
  <path d="M193 402 L260 402 L310 405 L360 406 L410 402 L440 390 L455 377 L464 362 L468 378 L458 392 L432 404 L415 410 L385 422 L350 433 L300 440 L237 442 L222 436 L205 418 Z" fill="#0b0d0d"/>

  <!-- silver spout -->
  <path d="M178.8 375 C190 369 203 362 213.7 356.4 C225 350 233 346.5 240.6 343 C250 338.5 258 334 267.5 329.6 C277 325 285 319.5 294.4 314.8 C310 307 323 301.5 336 295.6 C346 291 355 286.5 364 283.4 C371 281 377 279.6 383 279.2 C390 278.6 395 278.3 400 278.3 C406 278.3 411 278.4 415.8 278.8 C422 280 426 282 430 285 C435 289 438 293 441 297.6 C444 302 446 307 448 312 C451 318 453 325 455.3 331.7 C457.5 338 460 344 461.5 349.6 C463 355 464 360 464.2 364 C464.3 368 463.6 371.5 462.4 374.7 C460.5 378.5 458 381.5 455.3 383.7 C451 386.5 447 388 442.7 389 C432 394 421 398.5 410 401 C395 403.5 378 404 360 404 C340 405 320 406 300 406 C288 404 278 401.5 267.5 400.8 C252 400.5 238 401 227.2 402 C215 403.5 206 406 200 408 L195 407.5 C190 402 186 396 182.8 391.4 C180 387.5 178.5 384 177.5 380.6 Z" fill="url(#silverG)" stroke="#0b0b0b" stroke-width="1.6"/>
  <!-- top face -->
  <path d="M178.8 375 C190 369 203 362 213.7 356.4 C225 350 233 346.5 240.6 343 C250 338.5 258 334 267.5 329.6 C277 325 285 319.5 294.4 314.8 C310 307 323 301.5 336 295.6 C346 291 355 286.5 364 283.4 C371 281 377 279.6 383 279.2 C390 278.6 395 278.3 400 278.3 C406 278.3 411 278.4 415.8 278.8 C422 280 426 282 430 285 C434 289 436 292 437.3 295.8 C438.5 299 439 302 439 304.8 C438.5 308 437.5 311 435.6 313.8 C432 320 429 324 424.8 328 C419 333 413 336.5 406.9 338.9 C398 342.5 389 345.5 380 347.8 C355 351.5 325 353.5 300 354.4 C288 354.7 277 354.8 267.5 355 C257 355.3 248 355.6 240.6 356.4 C230 357.8 221 359.5 213.7 361.8 C200 366 188 371 178.8 376.6 Z" fill="url(#topG)" stroke="#111" stroke-width="1"/>
  <path d="M184 378 C200 371 215 366 230 362 C245 359.5 260 358.8 275 358.5 C300 358 330 356.5 360 354 C385 351.5 405 346 420 338 C430 332 437 324 441 314" fill="none" stroke="#fbfdfd" stroke-width="2.2"/>
  <path d="M186 380.5 C202 373.5 217 368.5 232 364.5 C247 362 262 361.3 277 361 C302 360.5 332 359 362 356.5 C387 354 407 348.5 422 340.5 C432 334.5 439 326.5 443.5 316.5" fill="none" stroke="#222" stroke-width="0.8"/>

  </g>


<!-- LINE SHADOWS -->
<g filter="url(#shd)" opacity="0.7" fill="none" stroke="#4a4a4a" stroke-width="12" stroke-linejoin="round" stroke-linecap="round">
  <polyline transform="translate(5,10)" points="104.4,240.3 186,235.5 299,241 417,230 518,165 636,177 752,199 866,184 968,197 1090,225.6 1210.3,234.3"/>
  <polyline transform="translate(5,10)" points="102.7,635.3 185.5,630.3 299,645 416,640 514,605.3 639,592.2 751,587.5 859,539 974.4,521 1090,555.8 1209.7,555.9"/>
</g>
<!-- LINES -->
<polyline fill="none" stroke="#f40a0a" stroke-width="10.7" stroke-linejoin="miter" stroke-linecap="round" points="104.4,240.3 186,235.5 299,241 417,230 518,165 636,177 752,199 866,184 968,197 1090,225.6 1210.3,234.3"/>
<polyline fill="none" stroke="#2a68d0" stroke-width="10.5" stroke-linejoin="miter" stroke-linecap="round" points="102.7,635.3 185.5,630.3 299,645 416,640 514,605.3 639,592.2 751,587.5 859,539 974.4,521 1090,555.8 1209.7,555.9"/>

<!-- AXIS -->
<path d="M37 697.5H1262" stroke="#000" stroke-width="3"/>
<path d="M136 697V714M248.4 697V714M360.8 697V714M473.2 697V714M585.6 697V714M698 697V714M810.4 697V714M922.8 697V714M1035.2 697V714M1147.6 697V714M1260.5 697V714" stroke="#000" stroke-width="2"/>

<!-- Y LABELS -->
<g class="ax">
  <text x="40.6" y="166">136</text>
  <text x="40.6" y="206">134</text>
  <text x="40.6" y="246">132</text>
  <text x="40.6" y="286">130</text>
  <text x="40.6" y="327">128</text>
  <text x="40.6" y="367.5">126</text>
  <text x="40.6" y="407.5">124</text>
  <text x="40.6" y="447.5">122</text>
  <text x="40.6" y="487.5">120</text>
  <text x="40.6" y="528">118</text>
  <text x="40.6" y="569">116</text>
  <text x="40.6" y="610">114</text>
  <text x="40.6" y="650">112</text>
  <text x="40.6" y="690.5">110</text>
</g>

<!-- DATES -->
<g class="dt" text-anchor="middle">
  <text x="192" y="722.5" textLength="32" lengthAdjust="spacingAndGlyphs">15</text>
  <text x="304" y="722.5" textLength="32" lengthAdjust="spacingAndGlyphs">22</text>
  <text x="418" y="722.5" textLength="32" lengthAdjust="spacingAndGlyphs">29</text>
  <text x="530" y="722.5" textLength="32" lengthAdjust="spacingAndGlyphs">05</text>
  <text x="643.5" y="722.5" textLength="32" lengthAdjust="spacingAndGlyphs">12</text>
  <text x="756" y="722.5" textLength="32" lengthAdjust="spacingAndGlyphs">19</text>
  <text x="870" y="722.5" textLength="32" lengthAdjust="spacingAndGlyphs">26</text>
  <text x="981" y="722.5" textLength="32" lengthAdjust="spacingAndGlyphs">03</text>
  <text x="1095" y="722.5" textLength="32" lengthAdjust="spacingAndGlyphs">10</text>
  <text x="1206" y="722.5" font-weight="bold" fill="#000" textLength="34" lengthAdjust="spacingAndGlyphs">17</text>
</g>

<!-- VALUES -->
<g class="val" text-anchor="middle">
  <text x="193.5" y="759.5" textLength="63" lengthAdjust="spacingAndGlyphs">1,324</text>
  <text x="304.5" y="759.5" textLength="63" lengthAdjust="spacingAndGlyphs">1,323</text>
  <text x="418" y="759.5" textLength="63" lengthAdjust="spacingAndGlyphs">1,330</text>
  <text x="530.5" y="759.5" textLength="63" lengthAdjust="spacingAndGlyphs">1,361</text>
  <text x="643" y="759.5" textLength="63" lengthAdjust="spacingAndGlyphs">1,358</text>
  <text x="755.5" y="759.5" textLength="63" lengthAdjust="spacingAndGlyphs">1,344</text>
  <text x="869.5" y="759.5" textLength="63" lengthAdjust="spacingAndGlyphs">1,352</text>
  <text x="981.5" y="759.5" textLength="63" lengthAdjust="spacingAndGlyphs">1,344</text>
  <text x="1097" y="759.5" textLength="63" lengthAdjust="spacingAndGlyphs">1,331</text>
  <text x="1206" y="759.5" font-weight="bold" fill="#d7103c" textLength="71" lengthAdjust="spacingAndGlyphs" font-size="27">1,329</text>
  <text x="193.5" y="793" textLength="63" lengthAdjust="spacingAndGlyphs">1,130</text>
  <text x="304.5" y="793" textLength="63" lengthAdjust="spacingAndGlyphs">1,124</text>
  <text x="418" y="793" textLength="63" lengthAdjust="spacingAndGlyphs">1,126</text>
  <text x="530.5" y="793" textLength="63" lengthAdjust="spacingAndGlyphs">1,142</text>
  <text x="643" y="793" textLength="63" lengthAdjust="spacingAndGlyphs">1,150</text>
  <text x="755.5" y="793" textLength="63" lengthAdjust="spacingAndGlyphs">1,153</text>
  <text x="869.5" y="793" textLength="63" lengthAdjust="spacingAndGlyphs">1,174</text>
  <text x="981.5" y="793" textLength="63" lengthAdjust="spacingAndGlyphs">1,181</text>
  <text x="1097" y="793" textLength="63" lengthAdjust="spacingAndGlyphs">1,167</text>
  <text x="1206" y="793" font-weight="bold" fill="#2c64c4" textLength="71" lengthAdjust="spacingAndGlyphs" font-size="27">1,169</text>
</g>

<!-- ROW LABELS -->
<text class="slab" x="38.5" y="757.5" font-size="30" fill="#d7103c" stroke="#d7103c" stroke-width="0.6" textLength="91.5" lengthAdjust="spacingAndGlyphs">Super</text>
<text class="slab" x="38.5" y="790.5" font-size="30" fill="#2c64c4" stroke="#2c64c4" stroke-width="0.6" textLength="98.5" lengthAdjust="spacingAndGlyphs">Diesel</text>

<!-- MONTH BARS -->
<rect x="37" y="807" width="433" height="39.5" fill="#000"/>
<rect x="478.8" y="807" width="446" height="39.5" fill="#000"/>
<rect x="934" y="807" width="329" height="39.5" fill="#000"/>
<g class="slab" font-size="30" fill="#fff" stroke="#fff" stroke-width="0.7">
  <text x="244.6" y="836.8" textLength="101.4" lengthAdjust="spacingAndGlyphs">August</text>
  <text x="630.7" y="836.8" textLength="154.7" lengthAdjust="spacingAndGlyphs" fill="#e6f0f0" stroke="#e6f0f0">September</text>
  <text x="1046.4" y="836" textLength="115.5" lengthAdjust="spacingAndGlyphs">Oktober</text>
</g>

<!-- SERIES LABELS -->
<text class="slab" x="1093.7" y="299.7" font-size="28" fill="#d7103c" stroke="#d7103c" stroke-width="0.6" textLength="157.5" lengthAdjust="spacingAndGlyphs">Super E10</text>
<text class="slab" x="1154" y="620" font-size="28" fill="#2c64c4" stroke="#2c64c4" stroke-width="0.6" textLength="97.8" lengthAdjust="spacingAndGlyphs">Diesel</text>

<!-- FOOTER -->
<g font-family="Liberation Sans, sans-serif" font-size="15.5" fill="#111">
<text x="921.4" y="872.2" textLength="186.4" lengthAdjust="spacingAndGlyphs">Quelle: www.adac.de/tanken</text>
<text x="1122" y="872.2" textLength="70.5" lengthAdjust="spacingAndGlyphs">© 10.2017</text>
<text x="1202" y="872.2" textLength="61.7" lengthAdjust="spacingAndGlyphs">ADAC e.V.</text>
</g>

<!-- TITLE -->
<text x="44.8" y="71.6" font-family="DejaVu Serif, Liberation Serif, serif" font-weight="bold" font-style="italic" font-size="55" fill="#0a0a0a" stroke="#0a0a0a" stroke-width="0.9" textLength="840" lengthAdjust="spacingAndGlyphs">Kraftstoffpreise in Deutschland</text>
</svg>
</body></html>
